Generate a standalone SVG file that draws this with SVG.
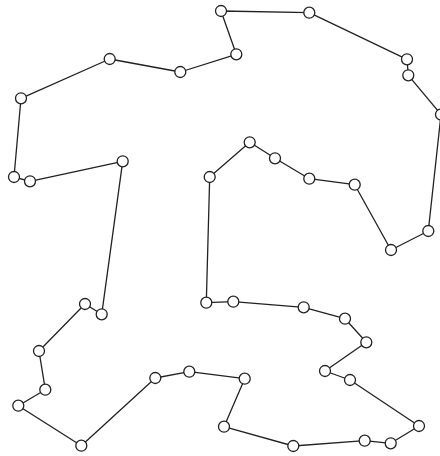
<svg xmlns="http://www.w3.org/2000/svg" width="440" height="456" viewBox="0 0 440 456">
<style>
.e{fill:none;stroke:#222;stroke-width:1.3;stroke-linejoin:round}
.n{fill:#fff;stroke:#222;stroke-width:1.3}
</style>
<rect width="440" height="456" fill="#fff"/>
<g id="connectors">
<polygon class="e" points="206.3,302.7 233.3,301.7 303.7,307.3 345,318.7 366.3,342.3 325,371 350,380 419,426 390.7,443.3 364.7,440.7 293.3,446 224,426.7 244.7,378.7 189.3,371.7 155.3,378 81.3,445.7 18.3,405.7 45.3,389.7 39,351 85,304 101.7,314.3 122.7,161.3 30,181.3 14,177 21,98.3 109.7,59 180.3,72 236.3,54.3 221,11 309.3,12.7 407,59.3 408.3,75.3 441,114.5 428.3,231 391,250 354.7,184.7 309.3,178.7 275,158.3 249.7,142.3 209.7,177"/>
</g>
<g id="n1"><circle class="n" cx="206.3" cy="302.7" r="5.5"/></g>
<g id="n2"><circle class="n" cx="233.3" cy="301.7" r="5.5"/></g>
<g id="n3"><circle class="n" cx="303.7" cy="307.3" r="5.5"/></g>
<g id="n4"><circle class="n" cx="345" cy="318.7" r="5.5"/></g>
<g id="n5"><circle class="n" cx="366.3" cy="342.3" r="5.5"/></g>
<g id="n6"><circle class="n" cx="325" cy="371" r="5.5"/></g>
<g id="n7"><circle class="n" cx="350" cy="380" r="5.5"/></g>
<g id="n8"><circle class="n" cx="419" cy="426" r="5.5"/></g>
<g id="n9"><circle class="n" cx="390.7" cy="443.3" r="5.5"/></g>
<g id="n10"><circle class="n" cx="364.7" cy="440.7" r="5.5"/></g>
<g id="n11"><circle class="n" cx="293.3" cy="446" r="5.5"/></g>
<g id="n12"><circle class="n" cx="224" cy="426.7" r="5.5"/></g>
<g id="n13"><circle class="n" cx="244.7" cy="378.7" r="5.5"/></g>
<g id="n14"><circle class="n" cx="189.3" cy="371.7" r="5.5"/></g>
<g id="n15"><circle class="n" cx="155.3" cy="378" r="5.5"/></g>
<g id="n16"><circle class="n" cx="81.3" cy="445.7" r="5.5"/></g>
<g id="n17"><circle class="n" cx="18.3" cy="405.7" r="5.5"/></g>
<g id="n18"><circle class="n" cx="45.3" cy="389.7" r="5.5"/></g>
<g id="n19"><circle class="n" cx="39" cy="351" r="5.5"/></g>
<g id="n20"><circle class="n" cx="85" cy="304" r="5.5"/></g>
<g id="n21"><circle class="n" cx="101.7" cy="314.3" r="5.5"/></g>
<g id="n22"><circle class="n" cx="122.7" cy="161.3" r="5.5"/></g>
<g id="n23"><circle class="n" cx="30" cy="181.3" r="5.5"/></g>
<g id="n24"><circle class="n" cx="14" cy="177" r="5.5"/></g>
<g id="n25"><circle class="n" cx="21" cy="98.3" r="5.5"/></g>
<g id="n26"><circle class="n" cx="109.7" cy="59" r="5.5"/></g>
<g id="n27"><circle class="n" cx="180.3" cy="72" r="5.5"/></g>
<g id="n28"><circle class="n" cx="236.3" cy="54.3" r="5.5"/></g>
<g id="n29"><circle class="n" cx="221" cy="11" r="5.5"/></g>
<g id="n30"><circle class="n" cx="309.3" cy="12.7" r="5.5"/></g>
<g id="n31"><circle class="n" cx="407" cy="59.3" r="5.5"/></g>
<g id="n32"><circle class="n" cx="408.3" cy="75.3" r="5.5"/></g>
<g id="n33"><circle class="n" cx="441" cy="114.5" r="5.5"/></g>
<g id="n34"><circle class="n" cx="428.3" cy="231" r="5.5"/></g>
<g id="n35"><circle class="n" cx="391" cy="250" r="5.5"/></g>
<g id="n36"><circle class="n" cx="354.7" cy="184.7" r="5.5"/></g>
<g id="n37"><circle class="n" cx="309.3" cy="178.7" r="5.5"/></g>
<g id="n38"><circle class="n" cx="275" cy="158.3" r="5.5"/></g>
<g id="n39"><circle class="n" cx="249.7" cy="142.3" r="5.5"/></g>
<g id="n40"><circle class="n" cx="209.7" cy="177" r="5.5"/></g>
</svg>
